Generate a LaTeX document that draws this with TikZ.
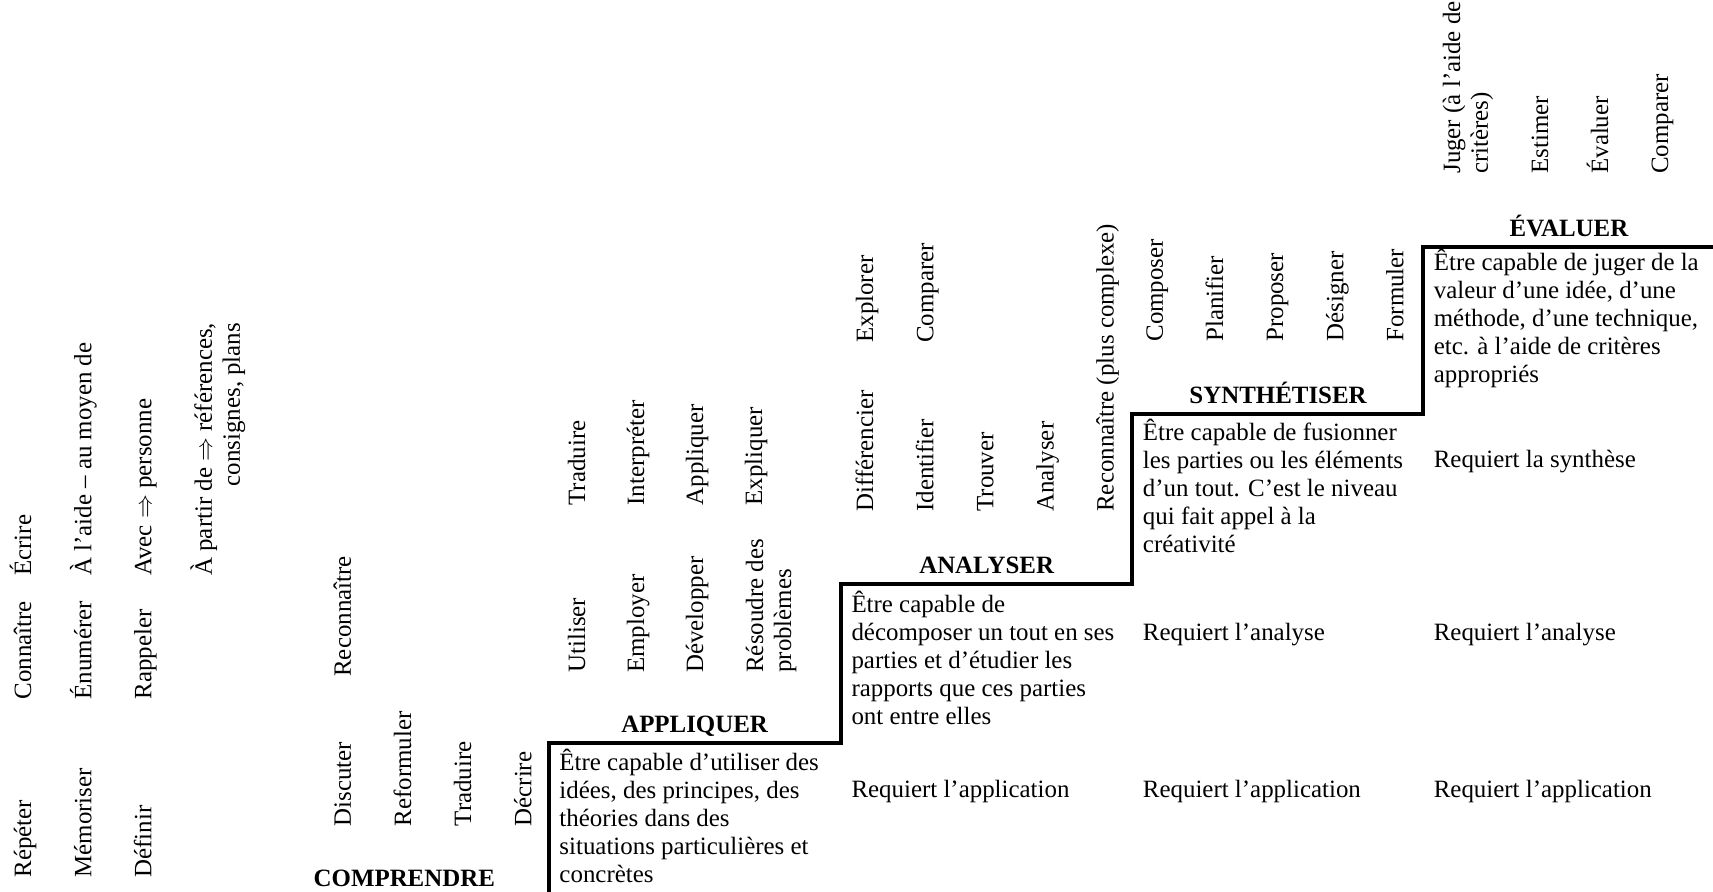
\documentclass[tikz,border=0pt]{standalone}
\usepackage{fontspec}
\setmainfont{Liberation Serif}
\usetikzlibrary{calc}
\newcommand{\txt}{\fontsize{12.5}{14}\selectfont}

\begin{document}
\begin{tikzpicture}[
  word/.style={rotate=90, anchor=base west, inner sep=0pt, align=left, font=\txt},
  desc/.style={anchor=base west, inner sep=0pt, align=left, font=\txt},
  level/.style={anchor=base, inner sep=0pt, font=\txt\bfseries},
  stair/.style={line width=2pt}]
\useasboundingbox (0,0) rectangle (30.21,15.73);
% corners of the steps
\coordinate (s1) at (4.56,-0.09);
\foreach \i/\x/\y in {2/9.68/2.63, 3/14.83/5.43, 4/19.97/8.43, 5/25.10/11.38}
  \coordinate (s\i) at (\x,\y);
\coordinate (s6) at (30.5,11.38);
\draw[stair] (s2 |- 0,-0.3) -- (s2) -| (s3) -| (s4) -| (s5) -- (s6);
% levels
\foreach \i/\t in {1/COMPRENDRE, 2/APPLIQUER, 3/ANALYSER, 4/SYNTHÉTISER, 5/ÉVALUER}
  \node[level] (h\i) at ($(s\i)+(2.57,0.18)$) {\t};
% definitions (base = last line)
\node[desc] (d2) at (9.86,0.17) {Être capable d’utiliser des\\idées, des principes, des\\théories dans des\\situations particulières et\\concrètes};
\node[desc] (d3) at (15.01,2.96) {Être capable de\\décomposer un tout en ses\\parties et d’étudier les\\rapports que ces parties\\ont entre elles};
\node[desc] (d4) at (20.15,5.99) {Être capable de fusionner\\les parties ou les éléments\\d’un tout. C’est le niveau\\qui fait appel à la\\créativité};
\node[desc] (d5) at (25.28,8.99) {Être capable de juger de la\\valeur d’une idée, d’une\\méthode, d’une technique,\\etc. à l’aide de critères\\appropriés};
\foreach \i/\x in {3/15.01, 4/20.15, 5/25.28}
  \node[desc] (ra\i) at (\x,1.66) {Requiert l’application};
\foreach \i/\x in {4/20.15, 5/25.28}
  \node[desc] (rb\i) at (\x,4.44) {Requiert l’analyse};
\node[desc] (rc5) at (25.28,7.48) {Requiert la synthèse};
% verbs, column by column
\foreach \t [count=\n from 0] in {Répéter, Mémoriser, Définir}
  \node[word] (c0a\n) at ({0.55+1.06*\n},0.25) {\t};
\foreach \t [count=\n from 0] in {Connaître, Énumérer, Rappeler}
  \node[word] (c0b\n) at ({0.55+1.06*\n},3.39) {\t};
\foreach \t [count=\n from 0] in {Écrire, À l’aide – au moyen de, Avec $\Rightarrow$ personne}
  \node[word] (c0c\n) at ({0.55+1.06*\n},5.57) {\t};
\node[word, align=right] (c0c3) at (4.23,5.57) {À partir de $\Rightarrow$ références,\\consignes, plans};
\foreach \t [count=\n from 0] in {Discuter, Reformuler, Traduire, Décrire}
  \node[word] (c1a\n) at ({6.19+1.06*\n},1.15) {\t};
\node[word] (c1b0) at (6.19,3.79) {Reconnaître};
\foreach \t [count=\n from 0] in {Utiliser, Employer, Développer}
  \node[word] (c2a\n) at ({10.32+1.04*\n},3.86) {\t};
\node[word] (c2a3) at (13.95,3.86) {Résoudre des\\problèmes};
\foreach \t [count=\n from 0] in {Traduire, Interpréter, Appliquer, Expliquer}
  \node[word] (c2b\n) at ({10.32+1.04*\n},6.81) {\t};
\foreach \t [count=\n from 0] in {Différencier, Identifier, Trouver, Analyser, Reconnaître (plus complexe)}
  \node[word] (c3a\n) at ({15.40+1.06*\n},6.70) {\t};
\foreach \t [count=\n from 0] in {Explorer, Comparer}
  \node[word] (c3b\n) at ({15.40+1.06*\n},9.68) {\t};
\foreach \t [count=\n from 0] in {Composer, Planifier, Proposer, Désigner, Formuler}
  \node[word] (c4a\n) at ({20.51+1.06*\n},9.70) {\t};
\node[word] (c5a0) at (26.24,12.66) {Juger (à l’aide de\\critères)};
\foreach \t [count=\n from 1] in {Estimer, Évaluer, Comparer}
  \node[word] (c5a\n) at ({26.24+1.06*\n},12.66) {\t};
\end{tikzpicture}
\end{document}
